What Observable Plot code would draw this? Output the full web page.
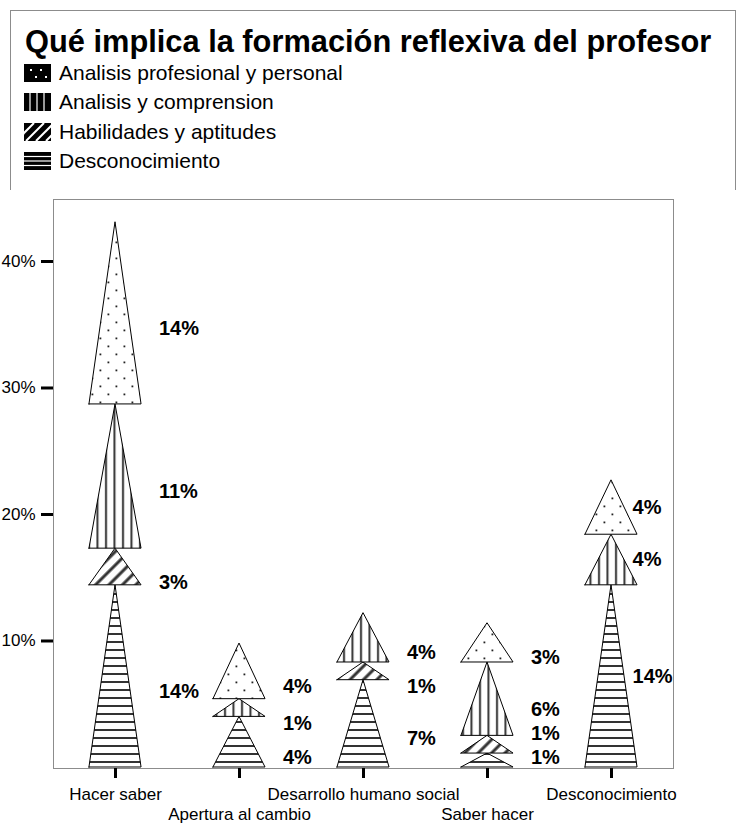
<!DOCTYPE html>
<html>
<head>
<meta charset="utf-8">
<script src="https://cdn.jsdelivr.net/npm/d3@7"></script>
<script src="https://cdn.jsdelivr.net/npm/@observablehq/plot@0.6"></script>
<style>
  body { margin: 0; background: #fff; font-family: "Liberation Sans", Arial, sans-serif; }
  #legend { position: absolute; left: 10px; top: 10px; width: 726px; height: 181px;
            border: 1px solid #8c8c8c; box-sizing: border-box; background: #fff; overflow: hidden; }
  #legend h1 { margin: 0; padding: 14px 0 0 14px; font-size: 30.8px; line-height: 33px; font-weight: bold; color: #000; white-space: nowrap; }
  .row { height: 29.5px; padding-left: 13px; font-size: 21px; display: flex; align-items: center; color: #000; }
  .row svg { margin-right: 8px; flex: none; }
  #chart { position: absolute; left: 0; top: 190px; }
  #chart svg { overflow: visible; }
</style>
</head>
<body>
<div id="legend">
  <h1>Qué implica la formación reflexiva del profesor</h1>
  <div id="rows"></div>
</div>
<div id="chart"></div>
<script>
// Categories along the x axis
const categories = ["Hacer saber", "Apertura al cambio", "Desarrollo humano social", "Saber hacer", "Desconocimiento"];

// Series, in legend order (top of the stack first)
const seriesNames = ["Analisis profesional y personal", "Analisis y comprension", "Habilidades y aptitudes", "Desconocimiento"];

// Percentages per category (same order as categories)
const profesional     = [14.4, 4.4, 0,   3.1, 4.3];
const comprension     = [11.4, 1.4, 3.9, 5.8, 4.0];
const habilidades     = [2.9,  0,   1.4, 1.4, 0];
const desconocimiento = [14.4, 4.0, 6.9, 1.1, 14.4];

// Y axis ticks (percent)
const yTicks = [10, 20, 30, 40];

// Stacking order, bottom to top
const stackOrder = [
  {name: "Desconocimiento", values: desconocimiento, pattern: "pat-h"},
  {name: "Habilidades y aptitudes", values: habilidades, pattern: "pat-d"},
  {name: "Analisis y comprension", values: comprension, pattern: "pat-v"},
  {name: "Analisis profesional y personal", values: profesional, pattern: "pat-dots"}
];

const halfWidth = 0.21;   // triangle half-base in category units
const segments = [];
categories.forEach((cat, i) => {
  let base = 0;
  stackOrder.forEach(s => {
    const v = s.values[i];
    if (!v) return;
    segments.push({i, cat, series: s.name, pattern: s.pattern, value: v, y0: base, y1: base + v});
    base += v;
  });
});

// Triangle outlines: base corners at y0, apex at y1
const triangleRows = segments.flatMap((s, k) => [
  {key: k, series: s.series, x: s.i - halfWidth, b: s.y0, t: s.y0},
  {key: k, series: s.series, x: s.i,             b: s.y0, t: s.y1},
  {key: k, series: s.series, x: s.i + halfWidth, b: s.y0, t: s.y0}
]);

// Value labels beside each stack, nudged apart so they do not collide
const labels = [];
categories.forEach((cat, i) => {
  const last = i === categories.length - 1;
  let prev = -Infinity;
  segments.filter(s => s.i === i).forEach(s => {
    const mid = (s.y0 + s.y1) / 2;
    let ly = last ? mid : mid - 1.2;
    ly = Math.max(ly, 0.8, prev + 1.9);
    prev = ly;
    labels.push({x: i + (last ? 0.17 : 0.35), y: ly, text: Math.round(s.value) + "%"});
  });
});

const triangleMarks = stackOrder.map(s =>
  Plot.areaY(triangleRows.filter(r => r.series === s.name), {
    x: "x", y1: "b", y2: "t", z: "key",
    fill: `url(#${s.pattern})`, stroke: "#000", strokeWidth: 1
  })
);

const svg = Plot.plot({
  width: 736,
  height: 635,
  marginTop: 9,
  marginBottom: 57,
  marginLeft: 53,
  marginRight: 63,
  style: {fontFamily: "'Liberation Sans', Arial, sans-serif", fontSize: "16px", background: "#fff", color: "#000"},
  x: {type: "linear", domain: [-0.5, categories.length - 0.5]},
  y: {domain: [-0.08, 44.9]},
  marks: [
    ...triangleMarks,
    Plot.frame({stroke: "#8c8c8c", strokeWidth: 1}),
    Plot.axisY({ticks: yTicks, tickFormat: d => d + "%", tickSize: 12, tickPadding: 6,
                strokeWidth: 3, fontSize: 17, label: null}),
    Plot.axisX({ticks: d3.range(0, categories.length, 2), tickFormat: i => categories[i],
                tickSize: 10, tickPadding: 9, strokeWidth: 3, fontSize: 17, label: null}),
    Plot.axisX({ticks: d3.range(1, categories.length, 2), tickFormat: i => categories[i],
                tickSize: 10, tickPadding: 29, strokeWidth: 3, fontSize: 17, label: null}),
    Plot.text(labels, {x: "x", y: "y", text: "text", textAnchor: "start",
                       fontSize: 20, fontWeight: "bold", fill: "#000"})
  ]
});

// Fill patterns used by the triangles (dark ink on white)
const defs = d3.select(svg).insert("defs", ":first-child");
function makePattern(id, w, h, draw, transform) {
  const p = defs.append("pattern").attr("id", id).attr("patternUnits", "userSpaceOnUse")
    .attr("width", w).attr("height", h);
  if (transform) p.attr("patternTransform", transform);
  p.append("rect").attr("width", w).attr("height", h).attr("fill", "#fff");
  draw(p);
}
makePattern("pat-dots", 16, 16, p => {
  for (const [x, y] of [[3.5, 3.5], [11.5, 11.5]])
    p.append("rect").attr("x", x).attr("y", y).attr("width", 1.8).attr("height", 1.8).attr("fill", "#222");
});
makePattern("pat-v", 8.5, 8, p => p.append("line").attr("x1", 4).attr("x2", 4).attr("y1", 0).attr("y2", 8).attr("stroke", "#333").attr("stroke-width", 2));
makePattern("pat-h", 8, 8, p => p.append("line").attr("x1", 0).attr("x2", 8).attr("y1", 4).attr("y2", 4).attr("stroke", "#333").attr("stroke-width", 2));
makePattern("pat-d", 9.5, 9.5, p => p.append("line").attr("x1", 4.75).attr("x2", 4.75).attr("y1", 0).attr("y2", 9.5).attr("stroke", "#333").attr("stroke-width", 3), "rotate(45)");

document.getElementById("chart").appendChild(svg);

// Legend swatches: white pattern on black
const swatchDraw = {
  "Analisis profesional y personal": g => {
    for (const [x, y] of [[6, 5], [16, 5], [11, 12], [21, 12]])
      g.append("rect").attr("x", x).attr("y", y).attr("width", 2).attr("height", 2).attr("fill", "#fff");
  },
  "Analisis y comprension": g => {
    for (const x of [6, 13, 20])
      g.append("line").attr("x1", x).attr("x2", x).attr("y1", 0).attr("y2", 18).attr("stroke", "#fff").attr("stroke-width", 1.2);
  },
  "Habilidades y aptitudes": g => {
    for (const o of [-8, 2, 12, 22])
      g.append("line").attr("x1", o).attr("y1", 18).attr("x2", o + 18).attr("y2", 0).attr("stroke", "#fff").attr("stroke-width", 2);
  },
  "Desconocimiento": g => {
    for (const y of [4.5, 9, 13.5])
      g.append("line").attr("x1", 0).attr("x2", 27).attr("y1", y).attr("y2", y).attr("stroke", "#fff").attr("stroke-width", 1.2);
  }
};
const rows = d3.select("#rows");
seriesNames.forEach(name => {
  const row = rows.append("div").attr("class", "row");
  const sw = row.append("svg").attr("width", 27).attr("height", 18);
  sw.append("rect").attr("width", 27).attr("height", 18).attr("fill", "#000");
  swatchDraw[name](sw);
  row.append("span").text(name);
});
</script>
</body>
</html>
